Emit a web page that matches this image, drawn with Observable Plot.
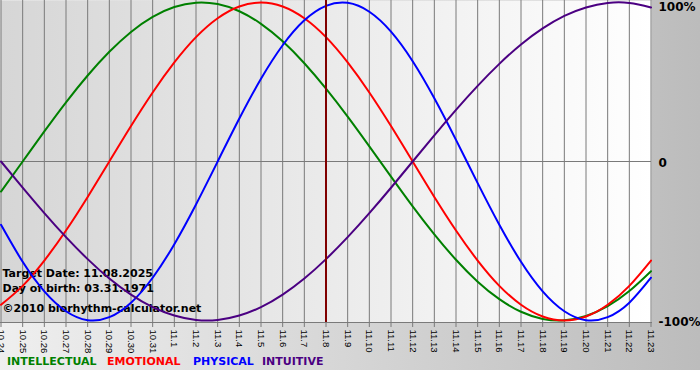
<!DOCTYPE html>
<html>
<head>
<meta charset="utf-8">
<script src="https://cdn.jsdelivr.net/npm/d3@7"></script>
<script src="https://cdn.jsdelivr.net/npm/@observablehq/plot@0.6"></script>
<style>
  html, body { margin: 0; padding: 0; background: #fff; }
  #wrap { position: relative; width: 700px; height: 380px; background: #fff; overflow: hidden; }
  #bg { position: absolute; left: 0; top: 0; width: 700px; height: 370px;
        background: linear-gradient(to right, #efefef, #bcbcbc); }
  #chart { position: absolute; left: 0; top: 0; }
  #legend span { position: absolute; top: 356px; font: bold 11px "DejaVu Sans", sans-serif; line-height: 12px; white-space: nowrap; }
</style>
</head>
<body>
<div id="wrap">
  <div id="bg"></div>
  <div id="chart"></div>
  <div id="legend"></div>
</div>
<script>
const dayLabels = ["10.24","10.25","10.26","10.27","10.28","10.29","10.30","10.31",
  "11.1","11.2","11.3","11.4","11.5","11.6","11.7","11.8","11.9","11.10","11.11","11.12",
  "11.13","11.14","11.15","11.16","11.17","11.18","11.19","11.20","11.21","11.22","11.23"];

const intellectual = [-18.9, 0, 18.9, 37.2, 54.1, 69.0, 81.5, 91.0, 97.2, 99.9, 99.0, 94.5, 86.6, 75.6, 61.8, 45.8,
  28.2, 9.5, -9.5, -28.2, -45.8, -61.8, -75.6, -86.6, -94.5, -99.0, -99.9, -97.2, -91.0, -81.5, -69.0];
const emotional = [-90.1, -78.2, -62.3, -43.4, -22.3, 0, 22.3, 43.4, 62.3, 78.2, 90.1, 97.5, 100, 97.5, 90.1, 78.2,
  62.3, 43.4, 22.3, 0, -22.3, -43.4, -62.3, -78.2, -90.1, -97.5, -100, -97.5, -90.1, -78.2, -62.3];
const physical = [-39.8, -63.1, -81.7, -94.2, -99.8, -97.9, -88.8, -73.1, -52.0, -27.0, 0, 27.0, 52.0, 73.1, 88.8, 97.9,
  99.8, 94.2, 81.7, 63.1, 39.8, 13.6, -13.6, -39.8, -63.1, -81.7, -94.2, -99.8, -97.9, -88.8, -73.1];
const intuitive = [0, -16.5, -32.5, -47.6, -61.4, -73.6, -83.7, -91.6, -96.9, -99.7, -99.7, -96.9, -91.6, -83.7, -73.6, -61.4,
  -47.6, -32.5, -16.5, 0, 16.5, 32.5, 47.6, 61.4, 73.6, 83.7, 91.6, 96.9, 99.7, 99.7, 96.9];

const seriesNames = ["INTELLECTUAL", "EMOTIONAL", "PHYSICAL", "INTUITIVE"];
const seriesColors = ["#008000", "#ff0000", "#0000ff", "#4b0082"];
const seriesValues = [intellectual, emotional, physical, intuitive];

const targetDay = "11.8";
const infoLines = ["Target Date: 11.08.2025", "Day of birth: 03.31.1971", "\u00a92010 biorhythm-calculator.net"];
const yTickValues = [100, 0, -100];
const yTickLabels = ["100%", "0", "-100%"];

const rows = [];
seriesNames.forEach((name, s) => {
  dayLabels.forEach((d, i) => rows.push({day: d, value: seriesValues[s][i], series: name}));
});

const infoOffsets = [-46, -31, -11];
const legendLeft = [7, 107, 193, 262];

const chart = Plot.plot({
  width: 700,
  height: 370,
  marginTop: 0,
  marginLeft: 0,
  marginRight: 49,
  marginBottom: 48,
  style: {background: "transparent", fontFamily: "'DejaVu Sans', sans-serif", overflow: "visible"},
  x: {type: "point", domain: dayLabels, range: [0.5, 650.5], padding: 0, round: false, axis: null},
  y: {domain: [-100, 100], range: [320, 2], axis: null},
  color: {domain: seriesNames, range: seriesColors},
  marks: [
    Plot.frame({fill: "url(#plotbg)", stroke: "none"}),
    Plot.ruleX(dayLabels, {stroke: "#7a7a7a", strokeWidth: 1}),
    Plot.ruleY([0], {stroke: "#7a7a7a", strokeWidth: 1}),
    Plot.frame({anchor: "bottom", stroke: "#7a7a7a"}),
    Plot.axisX({ticks: dayLabels, tickSize: 5, tickPadding: 2, tickRotate: 90, label: null,
      stroke: "#7a7a7a", fill: "black", fontSize: 9.5, fontFamily: "'Liberation Sans', sans-serif"}),
    ...infoLines.map((t, i) => Plot.text([t], {text: d => d, frameAnchor: "bottom-left", lineAnchor: "bottom",
      textAnchor: "start", dx: 2, dy: infoOffsets[i], fontSize: 11, fontWeight: "bold", fill: "black"})),
    Plot.line(rows, {x: "day", y: "value", z: "series", stroke: "series", strokeWidth: 2, curve: "natural"}),
    Plot.ruleX([targetDay], {stroke: "#800000", strokeWidth: 2}),
    Plot.text(yTickValues.slice(0, 1), {y: d => d, text: (d, i) => yTickLabels[0], frameAnchor: "right", textAnchor: "start",
      lineAnchor: "top", dx: 7, fontSize: 12, fontWeight: "bold", fill: "black"}),
    Plot.text(yTickValues.slice(1), {y: d => d, text: (d, i) => yTickLabels[i + 1], frameAnchor: "right", textAnchor: "start",
      lineAnchor: "middle", dx: 7, dy: 1.5, fontSize: 12, fontWeight: "bold", fill: "black"})
  ]
});

const svg = d3.select(chart);
const grad = svg.insert("defs", ":first-child").append("linearGradient")
  .attr("id", "plotbg").attr("x1", "0").attr("x2", "1").attr("y1", "0").attr("y2", "0");
grad.append("stop").attr("offset", "0").attr("stop-color", "#d6d6d6");
grad.append("stop").attr("offset", "1").attr("stop-color", "#ffffff");

document.getElementById("chart").appendChild(chart);

const legend = document.getElementById("legend");
seriesNames.forEach((name, i) => {
  const span = document.createElement("span");
  span.textContent = name;
  span.style.color = seriesColors[i];
  span.style.left = legendLeft[i] + "px";
  legend.appendChild(span);
});
</script>
</body>
</html>
